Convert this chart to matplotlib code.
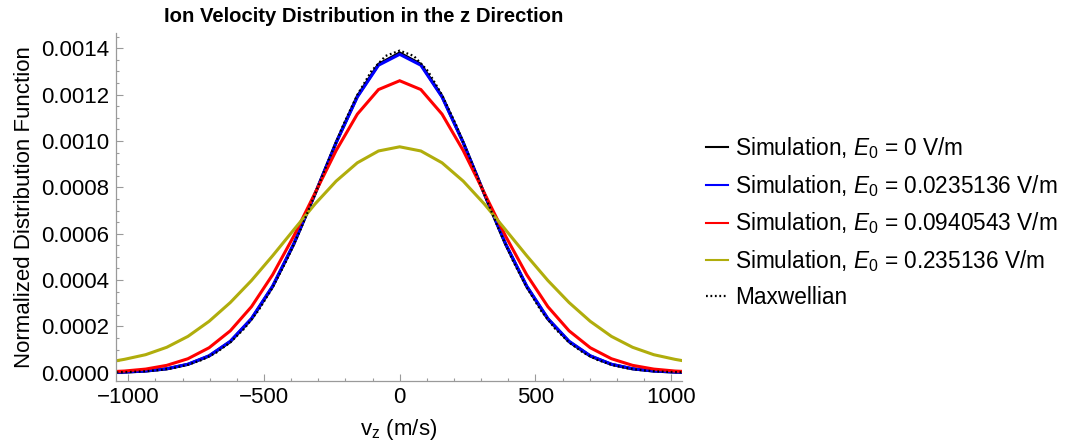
import matplotlib
matplotlib.use("Agg")
import matplotlib.pyplot as plt
from matplotlib.ticker import MultipleLocator, FormatStrFormatter

plt.rcParams["font.family"] = ["Liberation Sans", "DejaVu Sans"]
plt.rcParams["mathtext.fontset"] = "custom"
plt.rcParams["mathtext.rm"] = "Liberation Sans"
plt.rcParams["mathtext.it"] = "Liberation Sans:italic"
plt.rcParams["axes.unicode_minus"] = True

# ---- data ----
# velocity bin centres of the simulation histograms, m/s
v_sim = [-1092, -1014, -936, -858, -780, -702, -624, -546, -468, -390, -312, -234, -156, -78, 0,
         78, 156, 234, 312, 390, 468, 546, 624, 702, 780, 858, 936, 1014, 1092]

f_e0 = [0.0000011, 0.0000029, 0.0000073, 0.0000168, 0.0000362, 0.0000722, 0.000134, 0.000232,
        0.000372, 0.000555, 0.000771, 0.000994, 0.001193, 0.001331, 0.001380,
        0.001331, 0.001193, 0.000994, 0.000771, 0.000555, 0.000372, 0.000232, 0.000134,
        0.0000722, 0.0000362, 0.0000168, 0.0000073, 0.0000029, 0.0000011]
f_e1 = [0.0000012, 0.0000031, 0.0000077, 0.0000174, 0.0000370, 0.0000735, 0.000136, 0.000234,
        0.000374, 0.000557, 0.000772, 0.000993, 0.001190, 0.001327, 0.001374,
        0.001327, 0.001190, 0.000993, 0.000772, 0.000557, 0.000374, 0.000234, 0.000136,
        0.0000735, 0.0000370, 0.0000174, 0.0000077, 0.0000031, 0.0000012]
f_e2 = [0.0000033, 0.0000075, 0.0000159, 0.0000320, 0.0000606, 0.000108, 0.000181, 0.000285,
        0.000423, 0.000590, 0.000775, 0.000959, 0.001116, 0.001222, 0.001260,
        0.001222, 0.001116, 0.000959, 0.000775, 0.000590, 0.000423, 0.000285, 0.000181,
        0.000108, 0.0000606, 0.0000320, 0.0000159, 0.0000075, 0.0000033]
f_e3 = [0.000042, 0.000058, 0.000078, 0.000110, 0.000157, 0.000222, 0.000303, 0.000398,
        0.000505, 0.000617, 0.000728, 0.000827, 0.000906, 0.000957, 0.000975,
        0.000957, 0.000906, 0.000827, 0.000728, 0.000617, 0.000505, 0.000398, 0.000303,
        0.000222, 0.000157, 0.000110, 0.000078, 0.000058, 0.000042]

# Maxwellian reference, sampled finer
v_max = [-1092, -1040, -988, -936, -884, -832, -780, -728, -676, -624, -572, -520, -468, -416,
         -364, -312, -260, -208, -156, -104, -52, 0, 52, 104, 156, 208, 260, 312, 364, 416,
         468, 520, 572, 624, 676, 728, 780, 832, 884, 936, 988, 1040, 1092]
f_max = [0.0000010, 0.0000020, 0.0000037, 0.0000068, 0.0000121, 0.0000208, 0.0000346, 0.0000557,
         0.0000868, 0.000131, 0.000191, 0.000269, 0.000368, 0.000486, 0.000622, 0.000770,
         0.000922, 0.001069, 0.001199, 0.001302, 0.001367, 0.001390, 0.001367, 0.001302,
         0.001199, 0.001069, 0.000922, 0.000770, 0.000622, 0.000486, 0.000368, 0.000269,
         0.000191, 0.000131, 0.0000868, 0.0000557, 0.0000346, 0.0000208, 0.0000121, 0.0000068,
         0.0000037, 0.0000020, 0.0000010]

labels = [r"Simulation, $E_0$ = 0 V/m",
          r"Simulation, $E_0$ = 0.0235136 V/m",
          r"Simulation, $E_0$ = 0.0940543 V/m",
          r"Simulation, $E_0$ = 0.235136 V/m",
          "Maxwellian"]
colors = ["black", "#0000ff", "#ff0000", "#b0ad0c"]

fig = plt.figure(figsize=(10.78, 4.48), dpi=100)
ax = fig.add_axes([116 / 1078, 1 - 381 / 448, (682 - 116) / 1078, (381 - 33) / 448])

for f, c, lab in zip([f_e0, f_e1, f_e2, f_e3], colors, labels[:4]):
    ax.plot(v_sim, f, color=c, lw=2.2, label=lab, solid_joinstyle="miter")
ax.plot(v_max, f_max, color="black", lw=1.6, ls=(0, (0.8, 1.2)), label=labels[4])

ax.set_xlim(-1045, 1040)
ax.set_ylim(-0.0000355, 0.001466)
ax.xaxis.set_major_locator(MultipleLocator(500))
ax.xaxis.set_minor_locator(MultipleLocator(100))
ax.yaxis.set_major_locator(MultipleLocator(0.0002))
ax.yaxis.set_minor_locator(MultipleLocator(0.00005))
ax.yaxis.set_major_formatter(FormatStrFormatter("%.4f"))

for s in ["top", "right"]:
    ax.spines[s].set_visible(False)
for s in ["left", "bottom"]:
    ax.spines[s].set_color("#9a9a9a")
    ax.spines[s].set_linewidth(0.9)
ax.tick_params(which="both", direction="in", color="#9a9a9a", labelsize=16, width=0.8)
ax.tick_params(which="major", length=5)
ax.tick_params(which="minor", length=2.5)
ax.tick_params(axis="x", pad=4)
ax.tick_params(axis="y", pad=5)

ax.set_xlabel(r"$\mathrm{v_z}$ (m/s)", fontsize=16, labelpad=7)
ax.set_ylabel("Normalized Distribution Function", fontsize=16, labelpad=4)
fig.text(364 / 1078, 1 - 16 / 448, "Ion Velocity Distribution in the z Direction",
         ha="center", va="center", fontsize=14.6, fontweight="bold")

leg = ax.legend(loc="center left", bbox_to_anchor=(706 / 1078, 1 - 222 / 448),
                bbox_transform=fig.transFigure, frameon=False, fontsize=16.3,
                handlelength=0.95, handletextpad=0.35, labelspacing=0.52,
                borderpad=0, borderaxespad=0)
for line in leg.get_lines()[:4]:
    line.set_linewidth(1.5)

fig.savefig("out.png", dpi=100)
